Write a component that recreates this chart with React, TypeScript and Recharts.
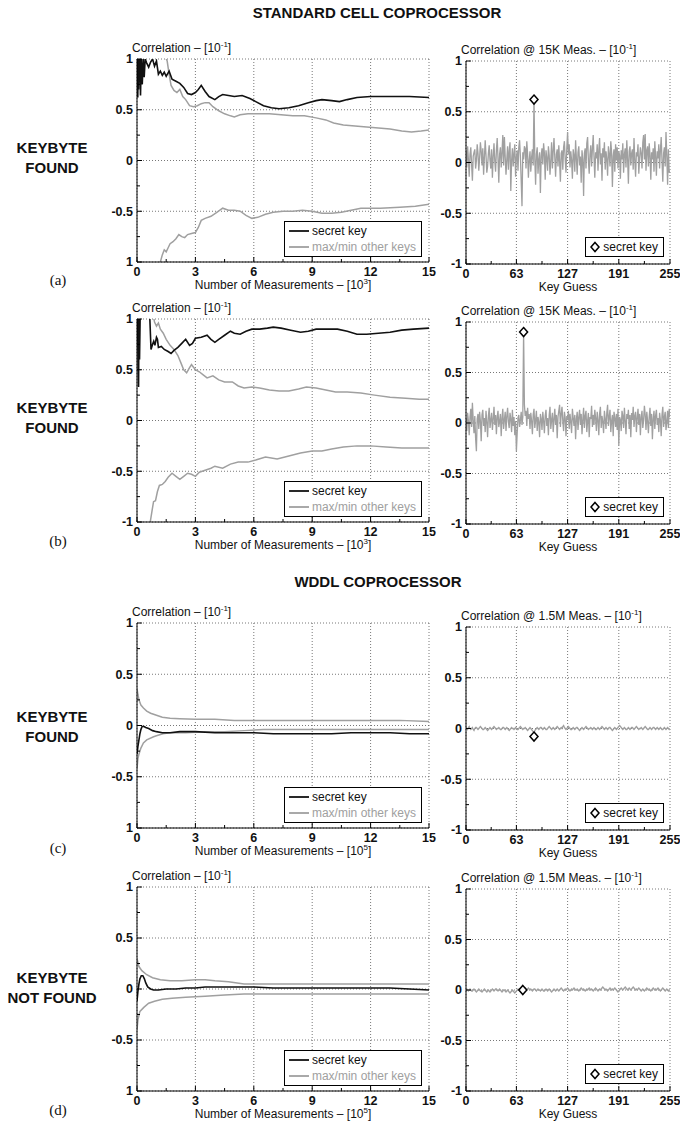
import React from 'react'
import {
  CartesianGrid,
  ComposedChart,
  Legend,
  Line,
  LineChart,
  Scatter,
  XAxis,
  YAxis,
} from 'recharts'

const FONT = "'Liberation Sans', Arial, Helvetica, sans-serif"
const INK = '#111'
const GREY = '#a0a0a0'

// axis ticks
const measMajor = [0, 3, 6, 9, 12, 15]
const measMinor = [1.5, 4.5, 7.5, 10.5, 13.5]
const corrMajor = [-1, -0.5, 0, 0.5, 1]
const corrMinor = [-0.75, -0.25, 0.25, 0.75]
const keyMajor = [0, 63, 127, 191, 255]
const keyMinor = [31.5, 95, 159, 223]

type Pt = [number, number]

// (a) standard cell, correlation vs measurements [10^3]
const aSecret: Pt[] = [[0,0.85],[0.02,1.0],[0.04,0.62],[0.06,1.0],[0.08,0.7],[0.1,1.0],[0.12,0.8],[0.15,1.0],[0.18,0.64],[0.22,1.0],[0.27,0.75],[0.32,1.0],[0.37,0.82],[0.42,1.0],[0.5,0.96],[0.6,0.92],[0.7,0.97],[0.8,1.0],[0.9,0.93],[1.0,0.98],[1.1,0.85],[1.2,0.88],[1.3,0.84],[1.4,0.87],[1.5,0.83],[1.65,0.88],[1.8,0.8],[2.0,0.78],[2.2,0.76],[2.4,0.72],[2.6,0.66],[2.8,0.65],[3.0,0.67],[3.15,0.7],[3.3,0.74],[3.5,0.68],[3.7,0.63],[4.0,0.6],[4.2,0.63],[4.4,0.65],[4.7,0.64],[5.0,0.63],[5.4,0.64],[5.8,0.61],[6.1,0.58],[6.5,0.54],[6.9,0.52],[7.3,0.51],[7.8,0.52],[8.3,0.54],[8.8,0.57],[9.2,0.59],[9.5,0.6],[10.0,0.59],[10.4,0.58],[10.8,0.6],[11.3,0.62],[12.0,0.63],[13.0,0.63],[14.0,0.63],[15,0.62]]
const aMax: Pt[] = [[0,1.3],[1.0,1.2],[1.4,1.05],[1.55,0.98],[1.65,0.85],[1.75,0.74],[1.9,0.69],[2.05,0.67],[2.2,0.7],[2.35,0.63],[2.5,0.6],[2.7,0.54],[2.9,0.53],[3.1,0.54],[3.3,0.56],[3.5,0.57],[3.7,0.57],[3.9,0.53],[4.2,0.49],[4.5,0.46],[4.8,0.44],[5.0,0.43],[5.3,0.45],[5.7,0.46],[6.2,0.46],[6.8,0.46],[7.4,0.45],[8.0,0.44],[8.6,0.44],[9.2,0.42],[9.7,0.4],[10.1,0.37],[10.6,0.35],[11.2,0.34],[11.8,0.33],[12.4,0.32],[13.0,0.31],[13.6,0.29],[14.1,0.28],[14.6,0.29],[15,0.3]]
const aMin: Pt[] = [[0,-1.5],[1.0,-1.1],[1.2,-1.0],[1.3,-0.93],[1.4,-0.88],[1.5,-0.9],[1.6,-0.86],[1.7,-0.82],[1.85,-0.8],[2.0,-0.77],[2.15,-0.73],[2.3,-0.75],[2.45,-0.76],[2.6,-0.73],[2.8,-0.72],[3.0,-0.71],[3.15,-0.66],[3.3,-0.59],[3.5,-0.57],[3.8,-0.55],[4.1,-0.51],[4.4,-0.47],[4.7,-0.49],[5.0,-0.49],[5.3,-0.5],[5.6,-0.54],[5.9,-0.57],[6.2,-0.56],[6.6,-0.53],[7.0,-0.51],[7.5,-0.5],[8.0,-0.5],[8.5,-0.49],[9.0,-0.5],[9.5,-0.52],[10.0,-0.52],[10.5,-0.51],[11.0,-0.49],[11.5,-0.47],[12.5,-0.47],[13.5,-0.46],[14.3,-0.45],[15,-0.43]]

// (b) standard cell, second keybyte
const bSecret: Pt[] = [[0,0.9],[0.03,1.0],[0.06,0.5],[0.08,0.33],[0.1,1.0],[0.13,0.6],[0.16,1.0],[0.2,1.1],[0.6,1.1],[0.66,1.0],[0.72,0.7],[0.8,0.75],[0.86,0.78],[0.92,0.74],[1.0,0.82],[1.05,0.8],[1.1,0.72],[1.25,0.73],[1.4,0.7],[1.6,0.68],[1.75,0.66],[1.9,0.69],[2.1,0.72],[2.3,0.76],[2.5,0.8],[2.7,0.74],[2.85,0.76],[3.0,0.81],[3.3,0.82],[3.6,0.84],[3.8,0.8],[4.0,0.77],[4.2,0.8],[4.5,0.84],[4.8,0.88],[5.0,0.86],[5.3,0.85],[5.6,0.88],[5.9,0.9],[6.3,0.9],[6.7,0.91],[7.0,0.92],[7.4,0.91],[7.9,0.89],[8.4,0.87],[8.8,0.88],[9.2,0.9],[9.8,0.9],[10.3,0.9],[10.8,0.88],[11.3,0.85],[11.8,0.85],[12.4,0.86],[13.0,0.87],[13.6,0.89],[14.2,0.9],[15,0.91]]
const bMax: Pt[] = [[0,1.3],[0.7,1.2],[0.85,1.02],[0.9,0.97],[1.0,0.93],[1.1,0.96],[1.2,0.9],[1.35,0.86],[1.5,0.8],[1.7,0.74],[1.9,0.7],[2.1,0.64],[2.25,0.57],[2.4,0.5],[2.55,0.47],[2.7,0.52],[2.8,0.55],[3.0,0.5],[3.2,0.48],[3.4,0.45],[3.6,0.42],[3.9,0.44],[4.2,0.4],[4.5,0.38],[4.9,0.38],[5.2,0.34],[5.5,0.32],[5.9,0.33],[6.3,0.32],[6.8,0.3],[7.3,0.29],[7.8,0.29],[8.3,0.31],[8.7,0.33],[9.2,0.32],[9.7,0.3],[10.2,0.28],[10.8,0.28],[11.5,0.27],[12.2,0.25],[13.0,0.23],[13.8,0.22],[14.5,0.21],[15,0.21]]
const bMin: Pt[] = [[0,-1.5],[0.6,-1.1],[0.68,-1.0],[0.78,-0.88],[0.85,-0.8],[0.95,-0.79],[1.05,-0.7],[1.15,-0.64],[1.3,-0.63],[1.45,-0.6],[1.6,-0.56],[1.8,-0.52],[2.0,-0.55],[2.2,-0.58],[2.4,-0.55],[2.6,-0.52],[2.8,-0.53],[3.0,-0.55],[3.2,-0.51],[3.5,-0.49],[3.8,-0.47],[4.0,-0.45],[4.4,-0.47],[4.8,-0.43],[5.2,-0.41],[5.7,-0.41],[6.1,-0.39],[6.6,-0.36],[7.2,-0.38],[7.8,-0.35],[8.4,-0.32],[9.0,-0.3],[9.5,-0.3],[10.0,-0.28],[10.6,-0.26],[11.3,-0.25],[12.0,-0.25],[12.8,-0.26],[13.6,-0.27],[14.3,-0.27],[15,-0.27]]

// (c) WDDL, correlation vs measurements [10^5]
const cSecret: Pt[] = [[0,-0.28],[0.05,-0.2],[0.1,-0.14],[0.15,-0.08],[0.2,-0.04],[0.26,-0.01],[0.36,-0.01],[0.45,-0.02],[0.6,-0.03],[0.8,-0.05],[1.0,-0.06],[1.3,-0.07],[1.7,-0.07],[2.2,-0.06],[3.0,-0.06],[4.0,-0.07],[5.0,-0.07],[6.0,-0.07],[7.0,-0.08],[8.0,-0.08],[9.0,-0.08],[10.0,-0.08],[11.0,-0.07],[12.0,-0.07],[13.0,-0.07],[14.0,-0.08],[15,-0.08]]
const cMax: Pt[] = [[0,0.36],[0.05,0.3],[0.1,0.25],[0.2,0.2],[0.33,0.17],[0.5,0.14],[0.7,0.12],[1.0,0.1],[1.3,0.08],[1.7,0.07],[2.2,0.065],[3.0,0.06],[4.0,0.06],[5.0,0.05],[6.0,0.05],[7.5,0.05],[9.0,0.05],[10.5,0.05],[12.0,0.05],[13.5,0.05],[15,0.04]]
const cMin: Pt[] = [[0,-0.42],[0.05,-0.32],[0.1,-0.28],[0.2,-0.22],[0.33,-0.17],[0.5,-0.14],[0.85,-0.11],[1.0,-0.1],[1.33,-0.08],[1.7,-0.07],[2.5,-0.07],[3.5,-0.06],[4.5,-0.06],[5.5,-0.05],[6.5,-0.04],[8.0,-0.04],[9.5,-0.04],[11.0,-0.04],[12.5,-0.04],[15,-0.04]]

// (d) WDDL, keybyte not found
const dSecret: Pt[] = [[0,-0.12],[0.05,-0.02],[0.1,0.05],[0.15,0.1],[0.22,0.13],[0.3,0.13],[0.38,0.1],[0.45,0.06],[0.55,0.02],[0.7,0.0],[0.85,-0.01],[1.1,-0.01],[1.5,0.0],[2.0,0.0],[2.5,0.01],[3.0,0.01],[3.5,0.02],[4.0,0.02],[5.0,0.02],[6.0,0.02],[7.0,0.01],[8.0,0.01],[9.0,0.01],[10.0,0.01],[11.0,0.01],[12.0,0.01],[13.0,0.01],[14.0,0.0],[15,-0.01]]
const dMax: Pt[] = [[0,0.3],[0.1,0.22],[0.25,0.18],[0.5,0.14],[0.8,0.11],[1.2,0.09],[1.7,0.08],[2.3,0.08],[3.0,0.09],[3.5,0.09],[4.0,0.08],[4.7,0.07],[5.5,0.05],[6.5,0.05],[8.0,0.05],[9.5,0.05],[11.0,0.05],[12.5,0.05],[14.0,0.05],[15,0.05]]
const dMin: Pt[] = [[0,-0.4],[0.05,-0.3],[0.15,-0.22],[0.35,-0.18],[0.6,-0.14],[0.9,-0.12],[1.3,-0.1],[1.8,-0.09],[2.5,-0.08],[3.5,-0.07],[4.5,-0.06],[5.5,-0.05],[7.0,-0.05],[8.5,-0.05],[10.0,-0.05],[11.5,-0.05],[13.0,-0.05],[15,-0.05]]

// correlation per key guess (0..255), in hundredths
const aGuess = [
  12, -5, 16, 3, -14, 8, 15, -2, -18, 6, 10, 13, -6, 2, 18, 9,
  -8, 4, 20, 11, -3, 14, -12, 5, 22, 7, -10, -4, 9, 17, 2, -6,
  13, -15, 6, 19, 1, -9, 12, 24, 4, -20, 8, 15, -5, 10, 27, -3,
  25, 6, -12, 3, 16, -7, 11, 20, -28, 2, 14, -4, 9, 18, -14, 5,
  12, -8, 15, 22, 6, -18, -43, 10, 3, 16, 14, -6, 21, 8, -15, 2,
  11, -9, 5, 13, -3, 62, 4, -22, 8, 15, -11, 3, 10, -30, 6, 14,
  -2, 19, 9, -17, 12, 4, -8, 16, 7, -12, 2, 20, -6, 11, 24, 5,
  -14, 8, 13, -4, 17, 1, -19, 9, 12, -7, 15, 21, 3, -10, 14, 30,
  8, 18, -5, 11, 2, -16, 13, 7, -9, 22, 4, -12, 10, 16, -3, 6,
  -20, 12, 3, -33, 9, 14, -6, 19, 25, 2, -11, 8, 17, -4, 13, 27,
  6, -15, 10, 4, 18, -8, 12, 24, -2, 9, -18, 14, 5, 20, -7, 11,
  3, -13, 16, 8, -4, 21, 10, -24, 6, 13, -9, 18, 2, 15, -6, 11,
  7, -16, 12, 3, 19, -10, 8, 14, -5, 22, 4, -21, 11, 16, -3, 9,
  13, -7, 24, 2, -14, 10, 6, 18, -11, 4, 15, 9, -6, 20, 27, 3,
  28, -8, 12, 16, -4, 19, 7, -17, 10, 3, 14, -9, 21, 6, -13, 11,
  4, 18, -6, 12, 25, 2, -19, 9, 15, -4, 30, 7, -22, 13, -10, -8,
]
const bGuess = [
  5, -8, 10, 2, -12, 6, 14, -4, 20, 3, -10, 7, -15, -28, 4, 9,
  -6, 11, 2, -18, 8, 13, -3, 5, -9, 12, 1, -14, 7, 15, -5, 3,
  10, -7, 4, 16, -2, 8, -11, 6, 12, -4, 2, 9, -13, 5, 14, -6,
  3, 11, -8, 7, 15, 1, -5, 10, 4, -9, 13, -3, 6, -12, 2, -28,
  -10, 5, 8, -4, 3, 11, -2, 6, 90, 18, 7, 12, -3, 15, 4, 9,
  -6, 10, 2, -11, 8, 14, -5, 3, 12, -8, 6, 1, -14, 9, 4, -7,
  11, 2, -10, 7, 13, -3, 5, -12, 8, 16, -6, 3, 10, -9, 4, 14,
  -2, 8, -15, 6, 12, 18, -4, 9, 16, 2, -8, 11, 5, -13, 7, 3,
  12, -6, 9, 1, -10, 14, 5, -3, 8, -16, 4, 11, -7, 6, 13, -2,
  9, -11, 3, 15, -5, 7, 12, -9, 2, 10, -14, 6, 4, 17, -4, 8,
  -2, 13, 5, -8, 11, 3, -12, 9, 16, -5, 7, 1, -10, 12, 4, -6,
  10, 18, -3, 6, 13, -9, 2, 8, -13, 11, 5, -4, 9, -7, 14, -22,
  6, 3, -8, 12, 7, -5, 15, 2, -11, 9, 4, 13, -6, 8, -14, 10,
  3, 16, -4, 7, 11, -9, 5, 14, -2, 9, -12, 6, 12, -5, 3, 17,
  8, -7, 11, 2, -10, 6, 15, -3, 9, -16, 4, 12, -6, 7, 13, -2,
  5, -9, 10, 3, -13, 8, 16, -4, 6, 11, -7, 2, 12, -5, 14, 6,
]
const cGuess = [
  1, 0, -1, 1, 2, 0, -1, 0, 1, -1, -2, 0, 1, 1, 0, -1,
  0, 1, 2, 1, 0, -1, -1, 0, 1, 0, -1, -2, -1, 0, 1, 0,
  -1, 0, 1, 2, 1, 0, -1, 0, 0, 1, 0, -1, -1, 0, 1, 1,
  0, -1, 0, 1, 0, -1, -2, -1, 0, 1, 0, 0, -1, 0, 1, 0,
  -1, -1, 0, 1, 2, 1, 0, -1, 0, 0, 1, 0, -1, -2, -1, 0,
  1, 0, -1, -2, -3, -5, -2, -1, 0, 1, 0, -1, 0, 1, 1, 0,
  -1, 0, 1, 0, -1, -1, 0, 1, 2, 1, 0, -1, 0, 1, 0, -1,
  0, 1, 2, 1, 0, -1, 0, 1, 0, 2, 3, 1, 0, -1, 0, 1,
  2, 1, 0, -1, -1, 0, 1, 0, -1, 0, 1, 1, 0, -1, -2, -1,
  0, 1, 0, -1, 0, 1, 2, 1, 0, -1, 0, 0, 1, 0, -1, 0,
  1, 0, -1, -1, 0, 1, 0, -1, 0, 1, 2, 1, 0, -1, 0, 1,
  0, -1, 0, 1, 1, 0, -1, -2, -1, 0, 1, 0, -1, 0, 1, 2,
  3, 2, 1, 0, -1, 0, 1, 0, -1, -1, 0, 1, 0, -1, 0, 1,
  1, 0, -1, 0, 1, 2, 1, 0, -1, 0, 0, 1, 0, -1, 0, 1,
  2, 1, 0, -1, -1, 0, 1, 0, -1, 0, 1, 1, 0, -1, 0, 1,
  0, -1, 0, 1, 0, -1, -1, 0, 1, 0, -1, 0, 1, 0, -1, 0,
]
const dGuess = [
  0, 1, 0, -1, 0, 1, 0, -1, -1, 0, 1, 0, -1, -2, -1, 0,
  1, 0, -1, -1, -2, -1, 0, 1, 0, -1, -2, -1, 0, -1, -2, -1,
  0, 1, 0, -1, 0, 1, 1, 0, -1, 0, 1, 0, -1, -2, -1, 0,
  0, -1, -2, -1, 0, -1, -2, -3, -2, -1, 0, -1, -2, -3, -2, -1,
  0, 1, 0, 1, 0, -1, 0, 0, 0, 1, 2, 1, 0, 1, 2, 1,
  0, 1, 0, -1, 0, 1, 1, 0, -1, 0, 1, 0, 0, -1, 0, 1,
  0, -1, -1, 0, 1, 0, -1, 0, 1, 0, -1, -2, -1, 0, 1, 0,
  -1, 0, 1, 0, -1, 0, 1, 2, 1, 0, -1, 0, 1, 0, 1, 2,
  1, 0, -1, 0, 1, 0, 1, 2, 1, 0, 0, 1, 0, -1, 0, 1,
  2, 1, 0, 1, 0, -1, 0, 1, 0, 1, 2, 1, 0, 1, 0, -1,
  0, 1, 2, 1, 0, -1, 0, 1, 0, 1, 2, 3, 2, 1, 0, 1,
  0, -1, 0, 1, 2, 1, 0, 1, 0, 1, 2, 1, 0, -1, -2, -1,
  0, 1, 2, 1, 0, 1, 2, 3, 2, 1, 0, 1, 2, 1, 0, 1,
  2, 3, 2, 1, 0, 1, 0, 1, 2, 1, 0, -1, 0, 1, 0, -1,
  0, 1, 2, 1, 0, 1, 0, -1, 0, 1, 2, 1, 0, 1, 0, 1,
  2, 1, 0, -1, 0, 1, 2, 1, 0, -1, 0, 1, 0, -1, 0, 0,
]

// secret key guess and its correlation
const aKey = { k: 85, v: 0.62 }
const bKey = { k: 72, v: 0.9 }
const cKey = { k: 85, v: -0.08 }
const dKey = { k: 71, v: 0.0 }

// plot-area geometry shared by every panel
const ML = 40
const MT = 22
const MR = 10
const XH = 30
const MB = 2

type Side = 'bottom' | 'left' | 'top' | 'right'

function tickRenderer(side: Side, majors: number[], fmt?: (v: number) => string) {
  return (props: any) => {
    const { x, y, payload } = props
    const v = payload.value
    const major = majors.includes(v)
    const len = major ? 5 : 3
    let x2 = x
    let y2 = y
    if (side === 'bottom') y2 = y - len
    if (side === 'top') y2 = y + len
    if (side === 'left') x2 = x + len
    if (side === 'right') x2 = x - len
    return (
      <g>
        <line x1={x} y1={y} x2={x2} y2={y2} stroke="#000" strokeWidth={1} />
        {fmt && major && (
          <text
            x={side === 'left' ? x - 4 : x}
            y={side === 'left' ? y : y + 13.5}
            dy={side === 'left' ? '0.35em' : 0}
            textAnchor={side === 'left' ? 'end' : 'middle'}
            fontSize={12.5}
            fontWeight={700}
            fontFamily={FONT}
            fill={INK}
          >
            {fmt(v)}
          </text>
        )}
      </g>
    )
  }
}

function topTitle(text: string) {
  return (props: any) => {
    const vb = props.viewBox
    return (
      <text x={vb.x + vb.width - 5} y={vb.y - 7} fontSize={12} fontFamily={FONT} fill={INK}>
        {text} – [10
        <tspan dy={-5} fontSize={8}>-1</tspan>
        <tspan dy={5}>]</tspan>
      </text>
    )
  }
}

function bottomTitle(text: string, power?: number) {
  return (props: any) => {
    const vb = props.viewBox
    return (
      <text x={vb.x + vb.width / 2} y={vb.y + 27} textAnchor="middle" fontSize={12} fontFamily={FONT} fill={INK}>
        {text}
        {power !== undefined && (
          <>
            {' – [10'}
            <tspan dy={-5} fontSize={8}>{power}</tspan>
            <tspan dy={5}>]</tspan>
          </>
        )}
      </text>
    )
  }
}

const LineSwatch = ({ color }: { color: string }) => (
  <svg width={20} height={10} style={{ display: 'block' }}>
    <line x1={0} y1={5} x2={20} y2={5} stroke={color} strokeWidth={1.8} />
  </svg>
)

const DiamondSwatch = () => (
  <svg width={10} height={12} style={{ display: 'block' }}>
    <path d="M5,1.5L9,6L5,10.5L1,6Z" fill="#fff" stroke="#000" strokeWidth={1.5} />
  </svg>
)

function LegendBox({ payload }: any) {
  const items = (payload || []).filter((p: any) => p.type !== 'none')
  return (
    <div
      style={{
        border: '1px solid #000',
        background: '#fff',
        padding: '1px 5px 1px 4px',
        fontFamily: FONT,
        fontSize: 12,
        lineHeight: '16px',
        whiteSpace: 'nowrap',
      }}
    >
      {items.map((p: any) => (
        <div key={p.value} style={{ display: 'flex', alignItems: 'center', gap: 3 }}>
          {p.type === 'diamond' ? <DiamondSwatch /> : <LineSwatch color={p.color} />}
          <span style={{ color: p.type === 'diamond' ? INK : p.color }}>{p.value}</span>
        </div>
      ))}
    </div>
  )
}

const Diamond = (p: any) => (
  <path
    d={`M${p.cx},${p.cy - 4.5}L${p.cx + 4},${p.cy}L${p.cx},${p.cy + 4.5}L${p.cx - 4},${p.cy}Z`}
    fill="#fff"
    stroke="#000"
    strokeWidth={1.5}
  />
)

const toPts = (s: Pt[]) => s.map(([x, y]) => ({ x, y }))
const secretFirst = (list: any[]) =>
  [...(list || [])].sort((a, b) => (a.value === 'secret key' ? -1 : b.value === 'secret key' ? 1 : 0))

type MeasProps = {
  left: number
  top: number
  plotH: number
  secret: Pt[]
  maxOther: Pt[]
  minOther: Pt[]
  power: number
  bottomLabel: string
}

function MeasPanel({ left, top, plotH, secret, maxOther, minOther, power, bottomLabel }: MeasProps) {
  const plotW = 292
  const fmtY = (v: number) => (v === -1 ? bottomLabel : String(v))
  return (
    <div style={{ position: 'absolute', left: left - ML, top: top - MT }}>
      <LineChart
        width={plotW + ML + MR}
        height={plotH + MT + XH + MB}
        margin={{ top: MT, right: MR, bottom: MB, left: 0 }}
      >
        <CartesianGrid
          xAxisId="b"
          yAxisId="l"
          verticalValues={measMajor}
          horizontalValues={corrMajor}
          stroke="#555"
          strokeDasharray="1 2"
          strokeWidth={0.8}
        />
        <XAxis
          xAxisId="b"
          type="number"
          dataKey="x"
          domain={[0, 15]}
          allowDataOverflow
          ticks={[...measMajor, ...measMinor]}
          interval={0}
          tickSize={0}
          tickMargin={0}
          tickLine={false}
          axisLine={{ stroke: '#000' }}
          height={XH}
          tick={tickRenderer('bottom', measMajor, String)}
          label={bottomTitle('Number of Measurements', power)}
        />
        <XAxis
          xAxisId="t"
          orientation="top"
          type="number"
          dataKey="x"
          domain={[0, 15]}
          allowDataOverflow
          ticks={[...measMajor, ...measMinor]}
          interval={0}
          tickSize={0}
          tickMargin={0}
          tickLine={false}
          axisLine={{ stroke: '#000' }}
          height={0}
          tick={tickRenderer('top', measMajor)}
        />
        <YAxis
          yAxisId="l"
          type="number"
          domain={[-1, 1]}
          allowDataOverflow
          ticks={[...corrMajor, ...corrMinor]}
          interval={0}
          tickSize={0}
          tickMargin={0}
          tickLine={false}
          axisLine={{ stroke: '#000' }}
          width={ML}
          tick={tickRenderer('left', corrMajor, fmtY)}
          label={topTitle('Correlation')}
        />
        <YAxis
          yAxisId="r"
          orientation="right"
          type="number"
          domain={[-1, 1]}
          allowDataOverflow
          ticks={[...corrMajor, ...corrMinor]}
          interval={0}
          tickSize={0}
          tickMargin={0}
          tickLine={false}
          axisLine={{ stroke: '#000' }}
          width={0}
          tick={tickRenderer('right', corrMajor)}
        />
        <Line
          xAxisId="b"
          yAxisId="l"
          data={toPts(maxOther)}
          dataKey="y"
          name="max/min other keys"
          stroke={GREY}
          strokeWidth={1.5}
          dot={false}
          isAnimationActive={false}
        />
        <Line
          xAxisId="b"
          yAxisId="l"
          data={toPts(minOther)}
          dataKey="y"
          name="min other keys"
          legendType="none"
          stroke={GREY}
          strokeWidth={1.5}
          dot={false}
          isAnimationActive={false}
        />
        <Line
          xAxisId="b"
          yAxisId="l"
          data={toPts(secret)}
          dataKey="y"
          name="secret key"
          stroke={INK}
          strokeWidth={1.6}
          dot={false}
          isAnimationActive={false}
        />
        <Legend
          layout="vertical"
          align="center"
          verticalAlign="middle"
          wrapperStyle={{ right: MR + 7, bottom: XH + MB + 5, width: 'auto' }}
          content={(p: any) => <LegendBox payload={secretFirst(p.payload)} />}
        />
      </LineChart>
    </div>
  )
}

type KeyProps = {
  left: number
  top: number
  plotH: number
  values: number[]
  secret: { k: number; v: number }
  measures: string
}

function KeyPanel({ left, top, plotH, values, secret, measures }: KeyProps) {
  const plotW = 204
  const data = values.map((v, k) => ({ k, v: v / 100 }))
  const fmtY = (v: number) => String(v)
  return (
    <div style={{ position: 'absolute', left: left - ML, top: top - MT }}>
      <ComposedChart
        width={plotW + ML + MR}
        height={plotH + MT + XH + MB}
        data={data}
        margin={{ top: MT, right: MR, bottom: MB, left: 0 }}
      >
        <CartesianGrid
          xAxisId="b"
          yAxisId="l"
          verticalValues={keyMajor}
          horizontalValues={corrMajor}
          stroke="#555"
          strokeDasharray="1 2"
          strokeWidth={0.8}
        />
        <XAxis
          xAxisId="b"
          type="number"
          dataKey="k"
          domain={[0, 255]}
          allowDataOverflow
          ticks={[...keyMajor, ...keyMinor]}
          interval={0}
          tickSize={0}
          tickMargin={0}
          tickLine={false}
          axisLine={{ stroke: '#000' }}
          height={XH}
          tick={tickRenderer('bottom', keyMajor, String)}
          label={bottomTitle('Key Guess')}
        />
        <XAxis
          xAxisId="t"
          orientation="top"
          type="number"
          dataKey="k"
          domain={[0, 255]}
          allowDataOverflow
          ticks={[...keyMajor, ...keyMinor]}
          interval={0}
          tickSize={0}
          tickMargin={0}
          tickLine={false}
          axisLine={{ stroke: '#000' }}
          height={0}
          tick={tickRenderer('top', keyMajor)}
        />
        <YAxis
          yAxisId="l"
          type="number"
          dataKey="v"
          domain={[-1, 1]}
          allowDataOverflow
          ticks={[...corrMajor, ...corrMinor]}
          interval={0}
          tickSize={0}
          tickMargin={0}
          tickLine={false}
          axisLine={{ stroke: '#000' }}
          width={ML}
          tick={tickRenderer('left', corrMajor, fmtY)}
          label={topTitle(`Correlation @ ${measures} Meas.`)}
        />
        <YAxis
          yAxisId="r"
          orientation="right"
          type="number"
          domain={[-1, 1]}
          allowDataOverflow
          ticks={[...corrMajor, ...corrMinor]}
          interval={0}
          tickSize={0}
          tickMargin={0}
          tickLine={false}
          axisLine={{ stroke: '#000' }}
          width={0}
          tick={tickRenderer('right', corrMajor)}
        />
        <Line
          xAxisId="b"
          yAxisId="l"
          dataKey="v"
          name="all keys"
          legendType="none"
          stroke={GREY}
          strokeWidth={1.3}
          dot={false}
          isAnimationActive={false}
        />
        <Scatter
          xAxisId="b"
          yAxisId="l"
          data={[secret]}
          dataKey="v"
          name="secret key"
          legendType="diamond"
          shape={Diamond}
          isAnimationActive={false}
        />
        <Legend
          layout="vertical"
          align="center"
          verticalAlign="middle"
          wrapperStyle={{ right: MR + 6, bottom: XH + MB + 7, width: 'auto' }}
          content={(p: any) => <LegendBox payload={p.payload} />}
        />
      </ComposedChart>
    </div>
  )
}

function Caption({ x, y, size, bold, serif, children }: any) {
  return (
    <div
      style={{
        position: 'absolute',
        left: x,
        top: y,
        transform: 'translate(-50%, -50%)',
        whiteSpace: 'nowrap',
        textAlign: 'center',
        fontSize: size,
        fontWeight: bold ? 700 : 400,
        fontFamily: serif ? "'Liberation Serif', 'DejaVu Serif', serif" : FONT,
        lineHeight: '20px',
        color: INK,
      }}
    >
      {children}
    </div>
  )
}

export default function App() {
  return (
    <div
      style={{
        position: 'absolute',
        left: 0,
        top: 0,
        width: 690,
        height: 1121,
        background: '#fff',
        overflow: 'hidden',
      }}
    >
      <Caption x={377} y={13} size={15} bold>STANDARD CELL COPROCESSOR</Caption>
      <Caption x={378} y={582} size={15} bold>WDDL COPROCESSOR</Caption>

      <Caption x={52} y={158} size={15} bold>KEYBYTE<br />FOUND</Caption>
      <Caption x={52} y={418} size={15} bold>KEYBYTE<br />FOUND</Caption>
      <Caption x={52} y={727} size={15} bold>KEYBYTE<br />FOUND</Caption>
      <Caption x={52} y={988} size={15} bold>KEYBYTE<br />NOT FOUND</Caption>

      <Caption x={58} y={280} size={15} serif>(a)</Caption>
      <Caption x={58} y={541} size={15} serif>(b)</Caption>
      <Caption x={58} y={848} size={15} serif>(c)</Caption>
      <Caption x={58} y={1110} size={15} serif>(d)</Caption>

      <MeasPanel left={137} top={59} plotH={203} secret={aSecret} maxOther={aMax} minOther={aMin} power={3} bottomLabel="1" />
      <KeyPanel left={466} top={61} plotH={203} values={aGuess} secret={aKey} measures="15K" />

      <MeasPanel left={137} top={319} plotH={203} secret={bSecret} maxOther={bMax} minOther={bMin} power={3} bottomLabel="-1" />
      <KeyPanel left={466} top={322} plotH={202} values={bGuess} secret={bKey} measures="15K" />

      <MeasPanel left={137} top={623} plotH={205} secret={cSecret} maxOther={cMax} minOther={cMin} power={5} bottomLabel="1" />
      <KeyPanel left={466} top={627} plotH={203} values={cGuess} secret={cKey} measures="1.5M" />

      <MeasPanel left={137} top={887} plotH={204} secret={dSecret} maxOther={dMax} minOther={dMin} power={5} bottomLabel="1" />
      <KeyPanel left={466} top={889} plotH={202} values={dGuess} secret={dKey} measures="1.5M" />
    </div>
  )
}
